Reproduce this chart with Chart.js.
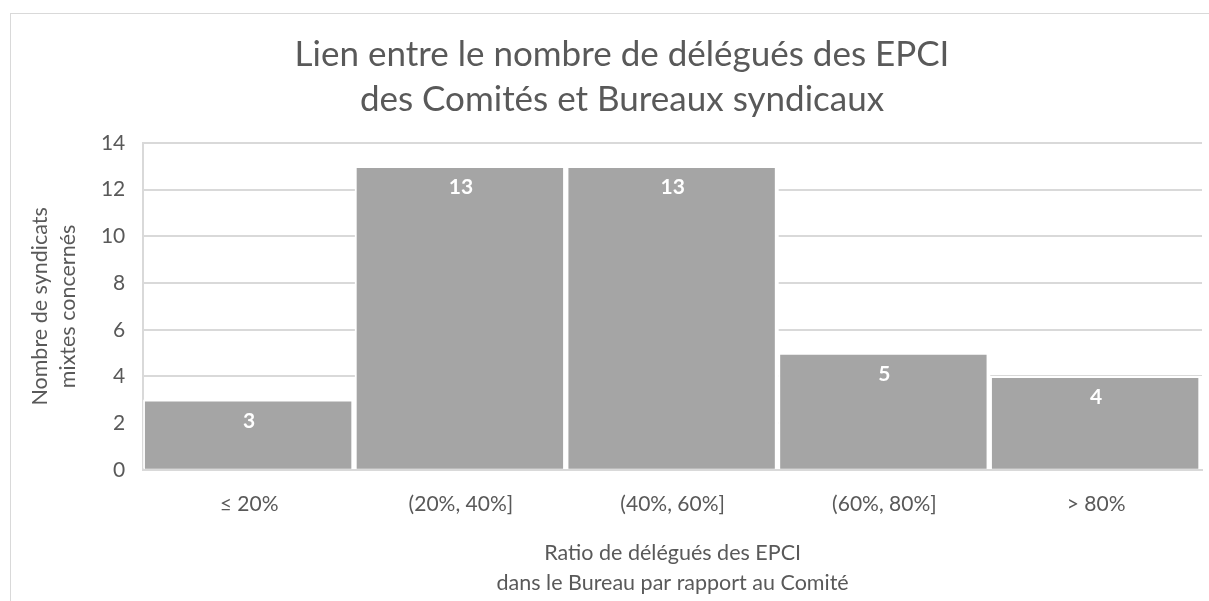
<!DOCTYPE html>
<html>
<head>
<meta charset="utf-8">
<script src="https://cdn.jsdelivr.net/npm/chart.js@4/dist/chart.umd.min.js"></script>
<style>
  html, body { margin: 0; padding: 0; background: #fff; }
  #wrap { position: relative; width: 1209px; height: 601px; overflow: hidden; }
  #frame {
    position: absolute; left: 10px; top: 13px; width: 1210px; height: 600px;
    border-left: 1px solid #d9d9d9; border-top: 1px solid #d9d9d9;
  }
  canvas { position: absolute; left: 0; top: 0; }
</style>
</head>
<body>
<div id="wrap">
  <div id="frame"></div>
  <canvas id="chart" width="1209" height="601"></canvas>
</div>
<script>
// données
const categories = ['≤ 20%', '(20%, 40%]', '(40%, 60%]', '(60%, 80%]', '> 80%']
const valeurs = [3, 13, 13, 5, 4]
const yTicks = [0, 2, 4, 6, 8, 10, 12, 14]
const titre = ['Lien entre le nombre de délégués des EPCI', 'des Comités et Bureaux syndicaux']

const FONT = 'Lato, "Open Sans", sans-serif'
const TXT = '#595959'

// étiquettes blanches en haut de chaque barre
const barLabels = {
  id: 'barLabels',
  afterDatasetsDraw(chart) {
    const ctx = chart.ctx
    const meta = chart.getDatasetMeta(0)
    ctx.save()
    ctx.fillStyle = '#ffffff'
    ctx.font = 'bold 21px ' + FONT
    ctx.textAlign = 'center'
    ctx.textBaseline = 'middle'
    meta.data.forEach((bar, i) => {
      ctx.fillText(String(valeurs[i]), bar.x, bar.y + 21)
    })
    ctx.restore()
  }
}

// le titre Excel est centré sur tout le cadre (plus large que l'image)
const titrePlugin = {
  id: 'titrePlugin',
  afterDraw(chart) {
    const ctx = chart.ctx
    const tb = chart.titleBlock
    const lh = 35 * 1.286
    ctx.save()
    ctx.fillStyle = TXT
    ctx.font = '35px ' + FONT
    ctx.textAlign = 'center'
    ctx.textBaseline = 'middle'
    titre.forEach((t, i) => {
      ctx.fillText(t, 622, tb.top + 32.5 + lh * (i + 0.5))
    })
    ctx.restore()
  }
}

new Chart(document.getElementById('chart'), {
  type: 'bar',
  data: {
    labels: categories,
    datasets: [{
      data: valeurs,
      backgroundColor: '#a5a5a5',
      borderColor: '#ffffff',
      borderWidth: { top: 2, left: 2, right: 4, bottom: 0 },
      borderSkipped: false,
      categoryPercentage: 1,
      barPercentage: 1
    }]
  },
  options: {
    responsive: false,
    animation: false,
    layout: { padding: { left: 10, right: 7, top: 0, bottom: 0 } },
    plugins: {
      legend: { display: false },
      tooltip: { enabled: false },
      title: {
        display: true,
        text: titre,
        color: 'rgba(0,0,0,0)',
        font: { family: FONT, size: 35, weight: 'normal', lineHeight: 1.286 },
        padding: { top: 32.5, bottom: 20.5 }
      }
    },
    scales: {
      x: {
        grid: { display: false, drawTicks: false },
        border: { display: true, color: '#d9d9d9', width: 2 },
        ticks: { color: TXT, font: { family: FONT, size: 21 }, padding: 22 },
        title: {
          display: true,
          text: ['Ratio de délégués des EPCI', 'dans le Bureau par rapport au Comité'],
          color: TXT,
          font: { family: FONT, size: 21.5, lineHeight: 1.395 },
          padding: { top: -1, bottom: 3 }
        }
      },
      y: {
        min: 0,
        max: 14,
        afterBuildTicks(axis) { axis.ticks = yTicks.map(v => ({ value: v })) },
        grid: { color: '#d9d9d9', lineWidth: 2, drawTicks: false },
        border: { display: true, color: '#d9d9d9', width: 2 },
        ticks: { color: TXT, font: { family: FONT, size: 21 }, padding: 18 },
        title: {
          display: true,
          text: ['Nombre de syndicats', 'mixtes concernés'],
          color: TXT,
          font: { family: FONT, size: 21.5, lineHeight: 1.3 },
          padding: { top: 16, bottom: 1 }
        }
      }
    }
  },
  plugins: [barLabels, titrePlugin]
})
</script>
</body>
</html>
